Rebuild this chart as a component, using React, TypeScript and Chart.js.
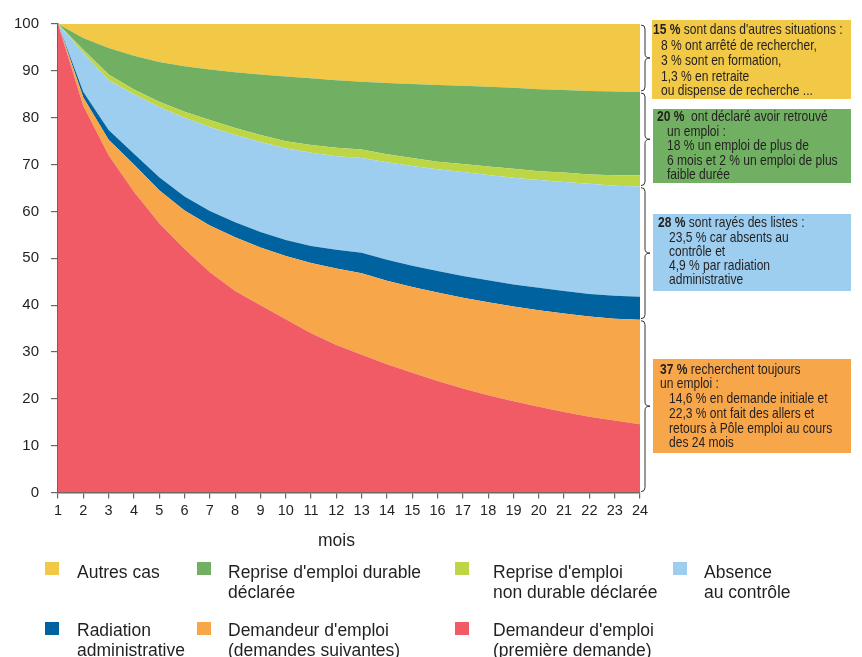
import React, { useEffect, useRef } from "react";
import { Chart, registerables } from "chart.js";

Chart.register(...registerables);

// ---------- DATA ----------
const months = ["1", "2", "3", "4", "5", "6", "7", "8", "9", "10", "11", "12", "13", "14", "15", "16", "17", "18", "19", "20", "21", "22", "23", "24"];

const premiereDemande = [100, 82.5, 72, 64.2, 57.5, 52, 47, 43, 40, 37, 34, 31.5, 29.4, 27.4, 25.6, 23.8, 22.2, 20.8, 19.5, 18.3, 17.2, 16.2, 15.4, 14.6];
const demandesSuivantes = [0, 1.8, 3.3, 5.8, 7.0, 8.2, 10, 11.5, 12.3, 13.5, 15, 16.3, 17.4, 17.8, 18.3, 18.9, 19.4, 19.8, 20.2, 20.6, 21.0, 21.4, 21.7, 22.3];
const radiationAdmin = [0, 1.2, 2.1, 2.3, 2.8, 3.0, 3.1, 3.2, 3.3, 3.4, 3.6, 4.0, 4.4, 4.5, 4.5, 4.6, 4.6, 4.7, 4.7, 4.8, 4.8, 4.8, 4.9, 4.9];
const absenceControle = [0, 8.3, 10.6, 12.7, 15.0, 16.8, 17.9, 18.6, 19.2, 19.6, 19.9, 20.0, 20.2, 20.8, 21.3, 21.7, 22.2, 22.5, 22.8, 23.0, 23.3, 23.5, 23.5, 23.5];
const repriseNonDurable = [0, 0.7, 1.2, 1.0, 1.1, 1.3, 1.5, 1.5, 1.5, 1.5, 1.7, 1.8, 1.8, 1.7, 1.7, 1.6, 1.7, 1.8, 1.9, 1.9, 2.0, 2.0, 2.2, 2.4];
const repriseDurable = [0, 2.5, 5.7, 7.2, 8.5, 9.7, 10.8, 11.9, 12.9, 13.8, 14.2, 14.4, 14.5, 15.2, 15.8, 16.4, 16.7, 17.0, 17.3, 17.5, 17.6, 17.8, 17.9, 17.8];
const autresCas = [0, 3, 5.1, 6.8, 8.1, 9.0, 9.7, 10.3, 10.8, 11.2, 11.6, 12.0, 12.3, 12.6, 12.8, 13.0, 13.2, 13.4, 13.6, 13.9, 14.1, 14.3, 14.4, 14.5];

const yTickValues = [0, 10, 20, 30, 40, 50, 60, 70, 80, 90, 100];
const xTitle = "mois";

// Legend labels (display order)
const legAutres = ["Autres cas"];
const legDurable = ["Reprise d'emploi durable", "déclarée"];
const legNonDurable = ["Reprise d'emploi", "non durable déclarée"];
const legAbsence = ["Absence", "au contrôle"];
const legRadiation = ["Radiation", "administrative"];
const legSuivantes = ["Demandeur d'emploi", "(demandes suivantes)"];
const legPremiere = ["Demandeur d'emploi", "(première demande)"];

// Annotation texts (bold head, rest of first line, following lines)
const noteAutresHead = "15 %";
const noteAutres = [" sont dans d'autres situations :", "8 % ont arrêté de rechercher,", "3 % sont en formation,", "1,3 % en retraite", "ou dispense de recherche ..."];
const noteEmploiHead = "20 %";
const noteEmploi = ["  ont déclaré avoir retrouvé", "un emploi :", "18 % un emploi de plus de", "6 mois et 2 % un emploi de plus", "faible durée"];
const noteRayesHead = "28 %";
const noteRayes = [" sont rayés des listes :", "23,5 % car absents au", "contrôle et", "4,9 % par radiation", "administrative"];
const noteRechercheHead = "37 %";
const noteRecherche = [" recherchent toujours", "un emploi :", "14,6 % en demande initiale et", "22,3 % ont fait des allers et", "retours à Pôle emploi au cours", "des 24 mois"];

// ---------- STYLE ----------
const C_YELLOW = "#F1C947";
const C_GREEN = "#71B062";
const C_LIME = "#BDD646";
const C_LBLUE = "#9DCEEF";
const C_DBLUE = "#00629E";
const C_ORANGE = "#F8A64A";
const C_RED = "#F05B65";
const TXT = "#231F20";
const REG = "'Liberation Sans', Arial, sans-serif";

function narrowText(ctx: CanvasRenderingContext2D, text: string, x: number, y: number, bold: boolean, size: number, squeeze: number) {
  ctx.save();
  ctx.font = `${bold ? "bold " : ""}${size}px ${REG}`;
  ctx.translate(x, y);
  ctx.scale(squeeze, 1);
  ctx.fillText(text, 0, 0);
  const w = ctx.measureText(text).width * squeeze;
  ctx.restore();
  return w;
}

const notesPlugin = {
  id: "notesPlugin",
  afterDraw(chart: any) {
    const { ctx, chartArea, scales } = chart;
    const y = scales.y;
    const last = months.length - 1;
    const bounds = [0];
    let s = 0;
    for (const ds of chart.data.datasets) {
      s += ds.data[last];
      bounds.push(Math.min(100, s));
    }
    const groups = [
      [bounds[7], bounds[6]],
      [bounds[6], bounds[4]],
      [bounds[4], bounds[2]],
      [bounds[2], bounds[0]],
    ];
    const x0 = chartArea.right + 1;
    const x1 = x0 + 4;
    const x2 = x0 + 9;
    ctx.save();
    ctx.strokeStyle = "#333";
    ctx.lineWidth = 1;
    for (const [top, bot] of groups) {
      const y1 = y.getPixelForValue(top) + 1;
      const y2 = y.getPixelForValue(bot) - 1;
      const ym = (y1 + y2) / 2;
      const r = 4;
      ctx.beginPath();
      ctx.moveTo(x0, y1);
      ctx.quadraticCurveTo(x1, y1, x1, y1 + r);
      ctx.lineTo(x1, ym - r);
      ctx.quadraticCurveTo(x1, ym, x2, ym);
      ctx.quadraticCurveTo(x1, ym, x1, ym + r);
      ctx.lineTo(x1, y2 - r);
      ctx.quadraticCurveTo(x1, y2, x0, y2);
      ctx.stroke();
    }

    // x-axis title
    ctx.fillStyle = TXT;
    ctx.font = `17.5px ${REG}`;
    ctx.textAlign = "center";
    ctx.textBaseline = "middle";
    ctx.fillText(xTitle, 336.5, 541);

    const boxes = [
      { color: C_YELLOW, x: 652, y: 20, w: 199, h: 79, head: noteAutresHead, lines: noteAutres, x1: 653, xr: 661, rIdx: 1, ys: [30, 45.5, 61, 76.5, 91] },
      { color: C_GREEN, x: 653, y: 109, w: 198, h: 74, head: noteEmploiHead, lines: noteEmploi, x1: 657, xr: 667, rIdx: 1, ys: [116.5, 131.5, 146, 160.5, 175] },
      { color: C_LBLUE, x: 653, y: 214, w: 198, h: 77, head: noteRayesHead, lines: noteRayes, x1: 658, xr: 669, rIdx: 1, ys: [223, 237.5, 251.5, 265.5, 280] },
      { color: C_ORANGE, x: 653, y: 359, w: 198, h: 94, head: noteRechercheHead, lines: noteRecherche, x1: 660, xr: 669, rIdx: 2, ys: [369.5, 384, 399, 414, 428.5, 443] },
    ];
    ctx.textBaseline = "middle";
    ctx.textAlign = "left";
    for (const b of boxes) {
      ctx.fillStyle = b.color;
      ctx.fillRect(b.x, b.y, b.w, b.h);
      ctx.fillStyle = TXT;
      const hw = narrowText(ctx, b.head, b.x1, b.ys[0], true, 14.5, 0.83);
      narrowText(ctx, b.lines[0], b.x1 + hw, b.ys[0], false, 14.5, 0.83);
      for (let i = 1; i < b.lines.length; i++) {
        const xx = i < b.rIdx ? b.x1 : b.xr;
        narrowText(ctx, b.lines[i], xx, b.ys[i], false, 14.5, 0.83);
      }
    }
    ctx.restore();
  },
};

export default function App() {
  const ref = useRef<HTMLCanvasElement | null>(null);

  useEffect(() => {
    document.body.style.margin = "0";
    const mk = (label: string, data: number[], color: string, fill: any) => ({
      label,
      data,
      backgroundColor: color,
      borderColor: color,
      borderWidth: 0,
      pointRadius: 0,
      tension: 0,
      fill,
    });
    const chart = new Chart(ref.current as HTMLCanvasElement, {
      type: "line",
      data: {
        labels: months,
        datasets: [
          mk(legPremiere.join(" "), premiereDemande, C_RED, "origin"),
          mk(legSuivantes.join(" "), demandesSuivantes, C_ORANGE, "-1"),
          mk(legRadiation.join(" "), radiationAdmin, C_DBLUE, "-1"),
          mk(legAbsence.join(" "), absenceControle, C_LBLUE, "-1"),
          mk(legNonDurable.join(" "), repriseNonDurable, C_LIME, "-1"),
          mk(legDurable.join(" "), repriseDurable, C_GREEN, "-1"),
          mk(legAutres.join(" "), autresCas, C_YELLOW, "-1"),
        ],
      },
      options: {
        animation: false,
        responsive: false,
        devicePixelRatio: 1,
        layout: { padding: { left: 2, right: 222, top: 24, bottom: 133 } },
        plugins: { legend: { display: false }, tooltip: { enabled: false } },
        scales: {
          x: {
            ticks: { autoSkip: false, maxRotation: 0, padding: 4, color: TXT, font: { family: REG, size: 14.5 } },
            grid: { drawOnChartArea: false, drawTicks: true, tickLength: 6, color: "#666", lineWidth: 1.2 },
            border: { color: "#666", width: 1.5 },
          },
          y: {
            stacked: true,
            min: 0,
            max: 100,
            afterBuildTicks: (sc: any) => {
              sc.ticks = yTickValues.map((v) => ({ value: v }));
            },
            ticks: { padding: 12, color: TXT, font: { family: REG, size: 15 } },
            grid: { drawOnChartArea: false, drawTicks: true, tickLength: 7, color: "#666", lineWidth: 1.2 },
            border: { color: "#666", width: 1.5 },
          },
        },
      },
      plugins: [notesPlugin],
    } as any);
    return () => chart.destroy();
  }, []);

  const legend = [
    { lines: legAutres, color: C_YELLOW, sx: 45, tx: 77, row: 0 },
    { lines: legDurable, color: C_GREEN, sx: 197, tx: 228, row: 0 },
    { lines: legNonDurable, color: C_LIME, sx: 455, tx: 493, row: 0 },
    { lines: legAbsence, color: C_LBLUE, sx: 673, tx: 704, row: 0 },
    { lines: legRadiation, color: C_DBLUE, sx: 45, tx: 77, row: 1 },
    { lines: legSuivantes, color: C_ORANGE, sx: 197, tx: 228, row: 1 },
    { lines: legPremiere, color: C_RED, sx: 455, tx: 493, row: 1 },
  ];
  const rowTop = [561.5, 620];
  const sqTop = [562, 622];

  return (
    <div style={{ position: "relative", width: 862, height: 657, overflow: "hidden", background: "#fff" }}>
      <canvas ref={ref} width={862} height={657} style={{ position: "absolute", left: 0, top: 0 }} />
      {legend.map((it, i) => (
        <React.Fragment key={i}>
          <div
            style={{
              position: "absolute",
              left: it.sx,
              top: sqTop[it.row],
              width: 14,
              height: 13,
              background: it.color,
            }}
          />
          <div
            style={{
              position: "absolute",
              left: it.tx,
              top: rowTop[it.row],
              fontFamily: REG,
              fontSize: 17.5,
              lineHeight: "20px",
              color: TXT,
              whiteSpace: "nowrap",
            }}
          >
            {it.lines.map((l, j) => (
              <div key={j}>{l}</div>
            ))}
          </div>
        </React.Fragment>
      ))}
    </div>
  );
}
